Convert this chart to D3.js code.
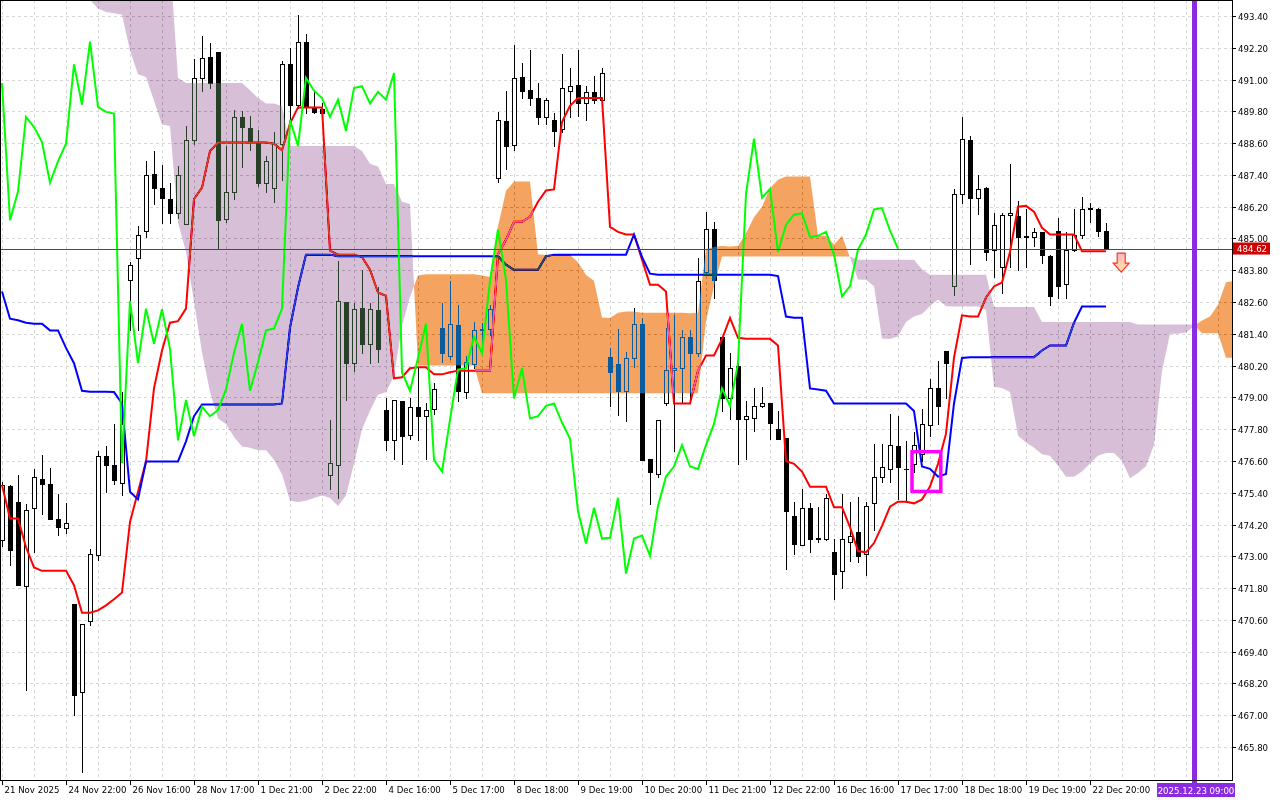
<!DOCTYPE html>
<html><head><meta charset="utf-8">
<script src="https://cdn.jsdelivr.net/npm/d3@7"></script>
<style>
html,body{margin:0;padding:0;background:#fff;}
svg{display:block;}
text{font-family:"DejaVu Sans",sans-serif;font-size:8.6px;}
</style></head><body>
<svg id="chart" width="1280" height="800"></svg>
<script>
// ---------- DATA (one value per hourly bar, bar 0 = left edge) ----------
const opens = [
473.6,475.67,475.06,471.88,474.83,475.91,475.72,474.39,474.07,471.21,
467.88,470.54,473.06,476.77,476.45,475.76,483.44,484.26,485.29,487.44,
486.92,486.49,485.97,485.53,488.71,491.06,491.86,492.05,485.72,486.77,
489.59,489.19,488.64,487.11,486.92,488.58,491.57,490.05,492.43,489.97,
489.9,476.07,476.45,482.62,480.29,482.39,481.02,482.3,478.52,477.38,
478.87,477.59,478.64,478.29,478.58,481.63,480.58,481.72,479.19,480.26,
481.53,481.6,487.3,489.44,488.52,491.11,490.62,490.3,489.59,489.48,
489.15,490.55,490.81,490.1,490.54,490.24,480.52,480.26,479.25,480.49,
481.78,476.68,476.11,478.77,480.05,480.1,481.29,480.68,483.72,485.34,
481.29,478.96,480.2,478.2,478.24,478.68,478.77,477.82,477.48,474.54,
473.44,474.83,473.67,473.67,473.15,472.45,473.53,473.91,473.1,475.02,
476.01,476.3,477.15,476.3,476.49,476.85,477.95,479.34,480.77,483.2,
486.68,488.71,486.54,486.92,484.58,483.91,485.9,485.86,485.06,485.06,
485.25,484.33,485.3,483.3,484.58,485.15,486.1,486.1,485.3];
const highs = [
475.8,475.7,476.07,474.96,476.3,476.81,476.33,475.34,475.0,471.21,
470.45,473.29,476.96,477.15,478.01,479.2,484.1,485.47,487.91,488.29,
487.76,487.11,487.72,489.25,491.76,492.64,492.39,492.05,488.49,489.86,
489.82,489.63,489.1,488.1,489.02,491.69,492.2,493.44,492.71,490.54,
490.1,478.16,484.14,482.62,482.58,483.82,482.58,483.15,478.96,478.9,
478.87,478.96,480.1,478.77,479.53,482.58,483.38,482.49,480.58,481.86,
481.82,482.49,489.78,490.58,492.3,491.63,492.1,490.87,490.3,489.72,
491.95,491.44,492.1,490.77,491.15,491.44,480.87,481.6,480.72,482.39,
482.01,476.68,478.16,481.63,482.11,481.53,481.53,484.26,486.01,485.63,
481.29,480.68,480.49,478.87,479.34,479.38,478.77,478.5,477.48,475.06,
475.53,475.02,474.87,475.34,473.67,475.34,475.06,475.25,475.06,477.25,
477.25,478.39,478.29,477.34,477.7,478.58,479.68,480.39,480.77,486.87,
489.59,488.87,487.38,486.96,485.95,485.95,487.8,486.43,486.1,485.38,
485.25,484.39,485.78,485.25,486.1,486.58,486.35,486.16,485.6];
const lows = [
473.4,472.68,471.9,467.97,473.15,474.58,474.39,473.82,473.88,467.02,
464.87,470.39,472.87,475.44,475.72,475.3,481.53,481.53,485.06,486.3,
485.59,485.59,485.78,485.53,488.58,490.58,490.68,484.64,485.63,486.49,
487.69,488.33,487.0,486.77,486.39,487.19,489.25,489.91,489.72,489.72,
489.6,475.53,475.19,478.9,480.0,480.68,480.29,480.33,477.02,476.68,
476.49,477.44,477.4,476.68,478.39,480.33,480.45,478.87,478.96,480.1,
480.68,481.34,487.15,487.63,488.33,490.3,490.05,489.34,489.34,488.49,
489.02,489.59,489.63,489.48,490.1,490.24,478.68,478.35,478.1,480.14,
476.64,474.96,476.01,478.73,476.97,478.77,478.87,480.58,483.63,482.77,
478.49,478.2,476.49,476.68,477.72,478.62,477.44,477.44,472.52,473.1,
473.44,473.15,473.53,473.6,471.4,471.82,472.83,472.77,472.29,474.0,
475.82,475.8,475.15,475.06,476.2,476.58,477.53,478.01,478.96,482.87,
486.35,484.05,485.92,484.2,483.53,482.96,483.91,483.82,483.91,484.7,
484.07,482.49,482.75,482.77,484.54,485.0,485.63,485.1,484.6];
const closes = [
475.7,473.25,471.91,474.73,476.01,475.72,474.39,474.1,474.26,467.78,
470.45,473.09,476.77,476.45,475.88,478.01,484.01,485.15,487.38,486.92,
486.54,485.97,487.38,488.71,491.06,491.82,490.87,485.69,486.77,489.59,
489.21,488.64,487.11,487.91,488.58,491.57,490.05,492.43,489.97,489.78,
489.72,476.52,482.64,480.29,482.35,481.02,482.33,480.83,477.38,478.9,
477.53,478.64,478.29,478.52,479.3,480.68,481.78,479.25,480.33,481.53,
481.6,482.35,489.48,488.49,491.06,490.58,490.3,489.59,490.24,489.06,
490.68,490.75,490.1,490.54,490.24,491.25,479.95,479.25,480.49,481.78,
476.64,476.2,478.16,480.05,480.1,481.29,480.68,483.4,485.34,483.44,
478.96,480.1,478.2,478.29,478.68,478.77,478.05,477.44,474.7,473.48,
474.83,473.67,473.7,475.21,472.35,473.67,473.78,473.02,474.9,476.01,
476.39,477.2,476.39,476.3,477.2,478.0,479.34,478.68,480.29,486.68,
488.77,486.54,486.87,484.49,485.51,485.9,485.95,485.06,485.1,485.25,
484.39,482.81,483.2,484.58,485.15,486.1,486.15,485.3,484.62];
const tenkan = [
475.69,474.43,474.43,473.34,472.58,472.45,472.45,472.45,472.45,471.91,
470.87,470.87,470.96,471.15,471.38,471.63,474.3,475.44,476.58,479.34,
480.77,481.82,481.88,482.35,486.49,486.92,488.3,488.62,488.62,488.62,
488.62,488.62,488.62,488.62,488.58,488.33,489.34,489.95,489.95,489.95,
489.95,484.54,484.39,484.39,484.39,484.3,483.82,482.96,482.83,479.72,
479.76,480.1,480.14,480.14,479.87,479.87,479.95,480.01,480.01,480.01,
480.01,480.01,484.4,484.95,485.63,485.63,485.82,486.39,486.81,486.85,
489.4,490.01,490.3,490.3,490.3,490.3,485.44,485.25,485.15,485.15,
484.2,483.25,483.25,483.0,478.77,478.77,478.77,480.0,480.58,480.58,
481.2,482.0,481.25,481.21,481.21,481.21,481.21,480.96,476.6,476.49,
476.2,475.63,475.63,475.63,474.85,474.85,474.1,473.2,473.15,473.5,
474.15,474.87,475.06,475.06,475.0,475.15,475.63,476.49,477.63,480.5,
482.1,482.05,482.05,482.77,483.19,483.34,484.49,486.2,486.23,486.01,
485.4,485.15,485.15,485.15,485.15,484.52,484.52,484.52,484.52];
const kijun = [
483.0,481.97,481.91,481.82,481.78,481.78,481.53,481.53,480.87,480.29,
479.25,479.21,479.21,479.21,479.2,478.77,475.44,475.15,476.58,476.58,
476.58,476.58,476.58,477.34,478.29,478.73,478.73,478.73,478.73,478.73,
478.73,478.73,478.73,478.73,478.73,478.77,481.63,483.15,484.39,484.39,
484.39,484.39,484.33,484.33,484.33,484.33,484.33,484.33,484.33,484.33,
484.33,484.33,484.33,484.33,484.33,484.33,484.33,484.33,484.33,484.33,
484.33,484.33,484.33,484.01,483.82,483.82,483.82,483.82,484.33,484.39,
484.39,484.39,484.39,484.39,484.39,484.39,484.39,484.39,484.39,485.15,
484.3,483.67,483.63,483.63,483.63,483.63,483.63,483.63,483.63,483.63,
483.63,483.63,483.63,483.63,483.63,483.63,483.63,483.58,482.05,482.01,
482.01,479.34,479.3,479.25,478.77,478.77,478.77,478.77,478.77,478.77,
478.77,478.77,478.77,478.77,478.49,476.39,476.3,476.01,476.11,478.77,
480.49,480.52,480.52,480.52,480.52,480.52,480.52,480.52,480.52,480.52,
480.77,480.96,480.96,480.96,481.82,482.43,482.43,482.43,482.43];
// Senkou spans as plotted (already shifted 26 bars forward), bars 0..154
const spanA = [
494.6,494.6,494.6,494.6,494.6,494.5,494.5,494.4,494.4,494.35,
494.3,494.0,493.68,493.55,493.5,493.45,492.1,491.2,491.1,490.2,
489.3,489.25,485.6,484.5,482.6,480.7,479.2,478.2,478.0,477.5,
477.15,477.1,477.0,477.0,476.65,476.1,475.1,475.05,475.1,475.2,
475.3,475.2,474.9,475.3,476.5,477.8,478.5,479.1,479.2,479.8,
481.7,482.8,483.6,483.65,483.65,483.65,483.65,483.65,483.65,483.65,
483.6,483.55,485.45,486.8,487.15,487.15,487.15,484.4,484.38,484.38,
484.38,484.38,484.1,483.62,483.4,482.02,482.0,482.2,482.24,482.24,
482.2,482.2,482.2,482.2,482.2,482.2,482.18,482.2,484.6,484.68,
484.72,484.7,484.72,485.2,485.8,486.2,486.9,487.22,487.34,487.34,
487.34,487.34,485.1,485.1,484.77,485.1,484.28,483.45,483.44,483.2,
481.22,481.2,481.3,481.85,482.05,482.15,482.45,482.7,482.44,482.43,
482.43,482.43,482.43,482.3,479.4,479.35,479.2,477.55,477.3,477.1,
476.85,476.8,476.42,476.0,476.0,476.2,476.5,476.8,476.9,476.9,
476.6,475.95,476.15,476.4,477.2,480.0,481.4,481.4,481.45,481.7,
481.9,482.05,482.5,483.35,483.4];
const spanB = [
496.5,496.5,496.5,496.5,496.5,496.5,496.5,496.5,496.5,496.5,
496.5,496.5,496.5,496.5,496.5,496.5,496.5,496.5,496.5,496.5,
496.0,495.5,491.06,490.87,490.87,490.87,490.87,490.87,490.87,490.87,
490.87,490.6,490.3,490.1,490.1,490.0,488.49,488.49,488.49,488.49,
488.49,488.49,488.49,488.49,488.49,488.3,487.82,487.72,487.06,487.06,
486.39,486.3,480.2,480.2,480.2,480.2,480.2,480.2,480.2,480.2,
479.16,479.16,479.16,479.16,479.16,479.16,479.16,479.16,479.16,479.16,
479.16,479.16,479.16,479.16,479.16,479.16,479.16,479.16,479.16,479.16,
479.16,479.16,479.16,479.16,479.16,479.16,479.16,479.16,481.9,483.2,
484.32,484.32,484.32,484.32,484.32,484.32,484.32,484.32,484.32,484.32,
484.32,484.32,484.32,484.32,484.32,484.32,484.32,484.2,484.2,484.2,
484.2,484.2,484.2,484.2,484.2,483.84,483.63,483.63,483.63,483.63,
483.63,483.63,483.63,483.63,482.41,482.41,482.41,482.41,482.41,482.41,
481.85,481.85,481.85,481.85,481.85,481.85,481.85,481.85,481.85,481.85,
481.85,481.85,481.75,481.75,481.75,481.75,481.75,481.75,481.75,481.75,
481.42,481.42,481.42,480.5,480.5];
const chikouShift = 26;
const priceTicks = [465.8,467.0,468.2,469.4,470.6,471.8,473.0,474.2,475.4,476.6,477.8,479.0,
  480.2,481.4,482.6,483.8,485.0,486.2,487.4,488.6,489.8,491.0,492.2,493.4];
const timeLabels = ["21 Nov 2025","24 Nov 22:00","26 Nov 16:00","28 Nov 17:00","1 Dec 21:00",
  "2 Dec 22:00","4 Dec 16:00","5 Dec 17:00","8 Dec 18:00","9 Dec 19:00","10 Dec 20:00",
  "11 Dec 21:00","12 Dec 22:00","16 Dec 16:00","17 Dec 17:00","18 Dec 18:00","19 Dec 19:00","22 Dec 20:00"];
const timeLabelBars = [0,8,16,24,32,40,48,56,64,72,80,88,96,104,112,120,128,136];
const lastPrice = 484.62;
const markerBar = 149, markerLabel = "2025.12.23 09:00";
const boxBars = [113.75, 117.35], boxPrices = [476.95, 475.45];
const arrowBar = 139.9, arrowPrice = 484.45;

// ---------- CHART ----------
const W = 1232, H = 780;
const svg = d3.select("#chart");
const x = d3.scaleLinear().domain([0, 153.75]).range([2, W]);
const y = d3.scaleLinear().domain([465.8, 493.4]).range([747, 16]);
const px = v => Math.round(v) + 0.5;

svg.append("rect").attr("width", 1280).attr("height", 800).attr("fill", "#fff");
const defs = svg.append("defs");
defs.append("clipPath").attr("id", "plot").append("rect")
  .attr("x", 0).attr("y", 0).attr("width", W).attr("height", H);
const grad = defs.append("linearGradient").attr("id", "arrowFill").attr("x1", 0).attr("x2", 0).attr("y1", 0).attr("y2", 1);
grad.append("stop").attr("offset", "0%").attr("stop-color", "#ffb8c0");
grad.append("stop").attr("offset", "100%").attr("stop-color", "#ffe6a0");

// grid
const grid = svg.append("g").attr("clip-path", "url(#plot)")
  .attr("stroke", "#d8d8d8").attr("stroke-dasharray", "3,3").attr("shape-rendering", "crispEdges");
priceTicks.forEach(p => grid.append("line").attr("x1", 0).attr("x2", W)
  .attr("y1", px(y(p))).attr("y2", px(y(p))));
for (let b = 0; x(b) < W; b += 4) {
  grid.append("line").attr("x1", px(x(b))).attr("x2", px(x(b))).attr("y1", 0).attr("y2", H);
}

// candles
const cg = svg.append("g").attr("clip-path", "url(#plot)").attr("shape-rendering", "crispEdges");
closes.forEach((c, i) => {
  const o = opens[i];
  const cx = Math.round(x(i));
  cg.append("line").attr("x1", cx + 0.5).attr("x2", cx + 0.5)
    .attr("y1", Math.round(y(highs[i]))).attr("y2", Math.round(y(lows[i])) + 1)
    .attr("stroke", "#000");
  const top = Math.round(y(Math.max(o, c))), bot = Math.round(y(Math.min(o, c)));
  if (bot - top < 1) {
    cg.append("line").attr("x1", cx - 2).attr("x2", cx + 3).attr("y1", top + 0.5).attr("y2", top + 0.5).attr("stroke", "#000");
  } else {
    cg.append("rect").attr("x", cx - 1.5).attr("y", top + 0.5).attr("width", 4).attr("height", bot - top)
      .attr("fill", c > o ? "#fff" : "#000").attr("stroke", "#000");
  }
});

// tenkan / kijun
const lineGen = d3.line().x((d, i) => x(i)).y(d => y(d));
const lg = svg.append("g").attr("clip-path", "url(#plot)").attr("fill", "none").attr("stroke-width", 2);
lg.append("path").datum(tenkan).attr("d", lineGen).attr("stroke", "#ff0000");
lg.append("path").datum(kijun).attr("d", lineGen).attr("stroke", "#0000ff");

// kumo (drawn with difference blending, like the terminal's inverted fill)
function cloudRuns(A, B) {
  const runs = []; let cur = null;
  for (let i = 0; i < A.length; i++) {
    const up = A[i] >= B[i];
    if (!cur) { cur = { up, pts: [{ i, a: A[i], b: B[i] }] }; continue; }
    if (up !== cur.up) {
      const d0 = A[i - 1] - B[i - 1], d1 = A[i] - B[i];
      const t = d0 / (d0 - d1);
      const xi = i - 1 + t, v = A[i - 1] + t * (A[i] - A[i - 1]);
      cur.pts.push({ i: xi, a: v, b: v });
      runs.push(cur);
      cur = { up, pts: [{ i: xi, a: v, b: v }, { i, a: A[i], b: B[i] }] };
    } else cur.pts.push({ i, a: A[i], b: B[i] });
  }
  runs.push(cur);
  return runs;
}
const area = d3.area().x(d => x(d.i)).y0(d => y(d.b)).y1(d => y(d.a));
const kumo = svg.append("g").attr("clip-path", "url(#plot)").style("mix-blend-mode", "difference");
cloudRuns(spanA, spanB).forEach(r => {
  // inverted SandyBrown (#F4A460) / Thistle (#D8BFD8)
  kumo.append("path").attr("d", area(r.pts)).attr("fill", r.up ? "#0b5b9f" : "#274027");
});

// chikou span
const chikou = closes.slice(chikouShift);
svg.append("path").datum(chikou).attr("d", lineGen).attr("fill", "none")
  .attr("stroke", "#00ff00").attr("stroke-width", 2).attr("clip-path", "url(#plot)");

// last price line
svg.append("rect").attr("x", 0).attr("width", W).attr("y", Math.round(y(lastPrice))).attr("height", 1)
  .attr("fill", "#ff0000");

// rectangle object
svg.append("rect").attr("x", x(boxBars[0])).attr("y", y(boxPrices[0]))
  .attr("width", x(boxBars[1]) - x(boxBars[0])).attr("height", y(boxPrices[1]) - y(boxPrices[0]))
  .attr("fill", "none").attr("stroke", "#ff00ff").attr("stroke-width", 3.5);

// sell arrow
const ax = x(arrowBar), ay = y(arrowPrice);
svg.append("path")
  .attr("d", `M${ax - 4},${ay} L${ax + 4},${ay} L${ax + 4},${ay + 10} L${ax + 8},${ay + 10} L${ax},${ay + 19} L${ax - 8},${ay + 10} L${ax - 4},${ay + 10} Z`)
  .attr("fill", "url(#arrowFill)").attr("stroke", "#ff3030").attr("stroke-width", 1.2);

// vertical marker
svg.append("line").attr("x1", x(markerBar) + 0.5).attr("x2", x(markerBar) + 0.5).attr("y1", 0).attr("y2", H + 3)
  .attr("stroke", "#8a2be2").attr("stroke-width", 5);

// frame
const fr = svg.append("g").attr("shape-rendering", "crispEdges").attr("stroke", "#000");
fr.append("rect").attr("x", 0.5).attr("y", 0.5).attr("width", W).attr("height", H).attr("fill", "none");

// price axis
const pa = svg.append("g");
priceTicks.forEach(p => {
  const yy = px(y(p));
  pa.append("line").attr("x1", W).attr("x2", W + 4).attr("y1", yy).attr("y2", yy).attr("stroke", "#000").attr("shape-rendering", "crispEdges");
  pa.append("text").attr("x", W + 6).attr("y", yy + 3).attr("fill", "#000").text(p.toFixed(2));
});
pa.append("rect").attr("x", W + 1).attr("y", y(lastPrice) - 6).attr("width", 37).attr("height", 12).attr("fill", "#d00000");
pa.append("text").attr("x", W + 5).attr("y", y(lastPrice) + 3.5).attr("fill", "#fff").text(lastPrice.toFixed(2));

// time axis
const ta = svg.append("g");
timeLabels.forEach((t, k) => {
  const xx = px(x(timeLabelBars[k]));
  ta.append("line").attr("x1", xx).attr("x2", xx).attr("y1", H).attr("y2", H + 5).attr("stroke", "#000").attr("shape-rendering", "crispEdges");
  ta.append("text").attr("x", xx + 2).attr("y", 793).attr("fill", "#000").text(t);
});
const mx = x(markerBar);
ta.append("rect").attr("x", mx - 37).attr("y", 783).attr("width", 78).attr("height", 14).attr("fill", "#8a2be2");
ta.append("text").attr("x", mx + 2).attr("y", 793.5).attr("text-anchor", "middle").attr("fill", "#fff").text(markerLabel);
</script>
</body></html>
